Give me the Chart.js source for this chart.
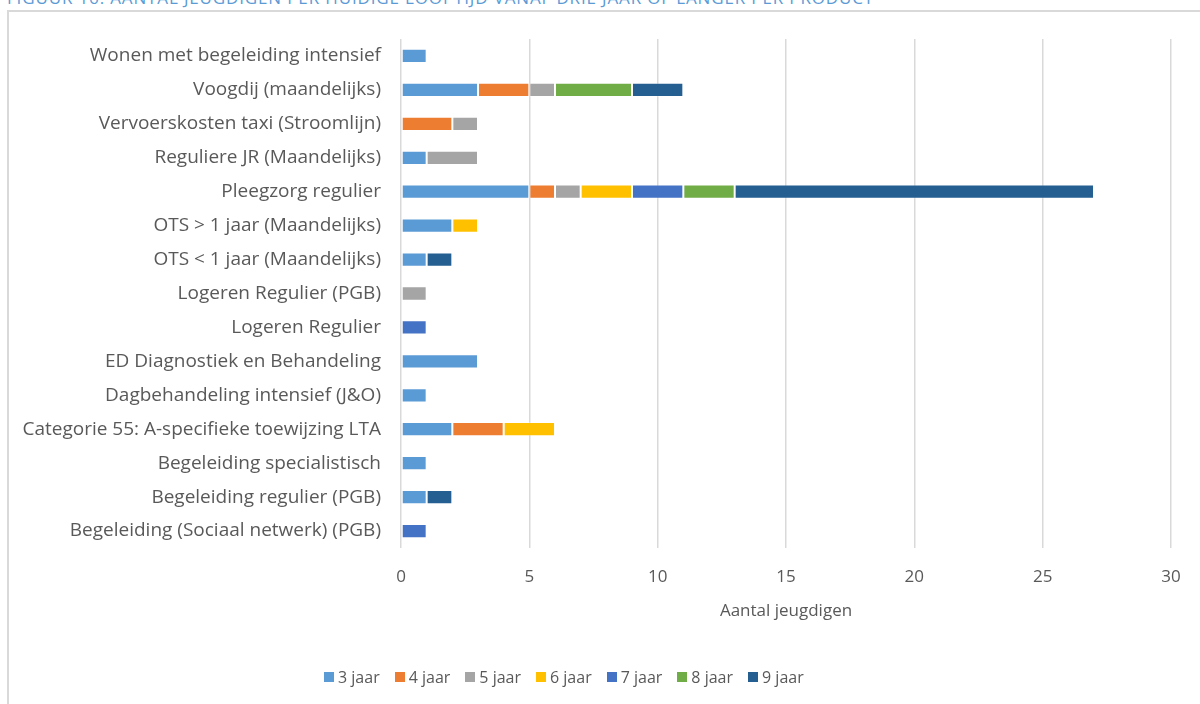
<!DOCTYPE html>
<html>
<head>
<meta charset="utf-8">
<script src="https://cdn.jsdelivr.net/npm/chart.js@4"></script>
<style>
  html, body { margin: 0; padding: 0; background: #fff; overflow: hidden; }
  #wrap { position: relative; width: 1200px; height: 704px; }
  #titel { position: absolute; left: 7px; top: -14px; font: 17px "Open Sans", sans-serif; letter-spacing: 0.85px; color: #5b9bd5; white-space: nowrap; }
  #kader { position: absolute; left: 7px; top: 10px; width: 1210px; height: 720px; border: 2px solid #d9d9d9; box-sizing: border-box; }
  #grafiek { position: absolute; left: 0; top: 0; }
  #legenda { position: absolute; left: 324px; top: 666px; display: flex; font: 16px "Open Sans", sans-serif; color: #595959; white-space: nowrap; }
  #legenda span.item { display: flex; align-items: center; margin-right: 15px; }
  #legenda span.blok { display: inline-block; width: 10px; height: 10px; margin-right: 4px; }
</style>
</head>
<body>
<div id="wrap">
  <div id="titel">FIGUUR 16: AANTAL JEUGDIGEN PER HUIDIGE LOOPTIJD VANAF DRIE JAAR OF LANGER PER PRODUCT</div>
  <div id="kader"></div>
  <canvas id="grafiek" width="1200" height="704"></canvas>
  <div id="legenda"></div>
</div>
<script>
// producten (van boven naar beneden)
var producten = [
  'Wonen met begeleiding intensief',
  'Voogdij (maandelijks)',
  'Vervoerskosten taxi (Stroomlijn)',
  'Reguliere JR (Maandelijks)',
  'Pleegzorg regulier',
  'OTS > 1 jaar (Maandelijks)',
  'OTS < 1 jaar (Maandelijks)',
  'Logeren Regulier (PGB)',
  'Logeren Regulier',
  'ED Diagnostiek en Behandeling',
  'Dagbehandeling intensief (J&O)',
  'Categorie 55: A-specifieke toewijzing LTA',
  'Begeleiding specialistisch',
  'Begeleiding regulier (PGB)',
  'Begeleiding (Sociaal netwerk) (PGB)'
];

// aantal jeugdigen per looptijd
var jaar3 = [1, 3, null, 1, 5, 2, 1, null, null, 3, 1, 2, 1, 1, null];
var jaar4 = [null, 2, 2, null, 1, null, null, null, null, null, null, 2, null, null, null];
var jaar5 = [null, 1, 1, 2, 1, null, null, 1, null, null, null, null, null, null, null];
var jaar6 = [null, null, null, null, 2, 1, null, null, null, null, null, 2, null, null, null];
var jaar7 = [null, null, null, null, 2, null, null, null, 1, null, null, null, null, null, 1];
var jaar8 = [null, 3, null, null, 2, null, null, null, null, null, null, null, null, null, null];
var jaar9 = [null, 2, null, null, 14, null, 1, null, null, null, null, null, null, 1, null];

var xTicks = [0, 5, 10, 15, 20, 25, 30];

var tekstKleur = '#595959';
var lettertype = '"Open Sans", sans-serif';

function reeks(label, data, kleur) {
  return {
    label: label,
    data: data,
    backgroundColor: kleur,
    borderColor: 'rgba(255,255,255,0.3)',
    borderWidth: 1,
    borderSkipped: false,
    barPercentage: 0.42,
    categoryPercentage: 1
  };
}

var ctx = document.getElementById('grafiek').getContext('2d');

var grafiek = new Chart(ctx, {
  type: 'bar',
  data: {
    labels: producten,
    datasets: [
      reeks('3 jaar', jaar3, '#5b9bd5'),
      reeks('4 jaar', jaar4, '#ed7d31'),
      reeks('5 jaar', jaar5, '#a5a5a5'),
      reeks('6 jaar', jaar6, '#ffc000'),
      reeks('7 jaar', jaar7, '#4472c4'),
      reeks('8 jaar', jaar8, '#70ad47'),
      reeks('9 jaar', jaar9, '#255e91')
    ]
  },
  options: {
    indexAxis: 'y',
    responsive: false,
    animation: false,
    layout: { padding: { top: 39, right: 29, bottom: 0, left: 0 } },
    plugins: {
      tooltip: { enabled: false },
      legend: { display: false }
    },
    scales: {
      x: {
        stacked: true,
        min: 0,
        max: 30,
        afterBuildTicks: function (s) { s.ticks = xTicks.map(function (v) { return { value: v }; }); },
        afterFit: function (s) { s.height = 156; },
        grid: { color: '#d9d9d9', lineWidth: 1.5, drawTicks: false },
        border: { display: false },
        ticks: { padding: 19, color: tekstKleur, font: { family: lettertype, size: 17 } },
        title: {
          display: true,
          text: 'Aantal jeugdigen',
          color: tekstKleur,
          font: { family: lettertype, size: 17 },
          padding: { top: 0, bottom: 83 }
        }
      },
      y: {
        stacked: true,
        afterFit: function (s) { s.width = 401; },
        grid: { display: false, drawTicks: false },
        border: { display: false },
        ticks: { padding: 20, color: tekstKleur, font: { family: lettertype, size: 19 } }
      }
    }
  }
});

// legenda onder de grafiek
var legenda = document.getElementById('legenda');
grafiek.data.datasets.forEach(function (ds) {
  var item = document.createElement('span');
  item.className = 'item';
  var blok = document.createElement('span');
  blok.className = 'blok';
  blok.style.background = ds.backgroundColor;
  item.appendChild(blok);
  item.appendChild(document.createTextNode(ds.label));
  legenda.appendChild(item);
});
</script>
</body>
</html>
